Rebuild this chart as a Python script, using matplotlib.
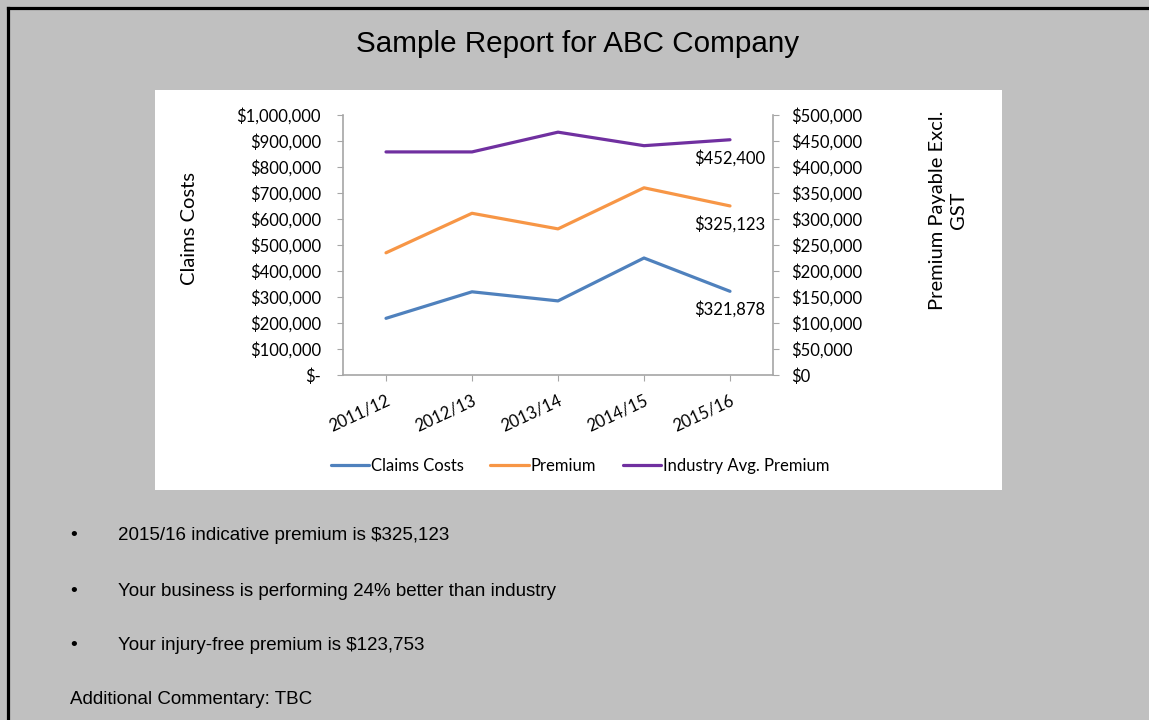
import matplotlib
matplotlib.use('Agg')
import matplotlib.pyplot as plt
from matplotlib.patches import Rectangle
from matplotlib.lines import Line2D
from matplotlib.ticker import FuncFormatter, MultipleLocator

# Data
years = ['2011/12', '2012/13', '2013/14', '2014/15', '2015/16']
claims = [218000, 320000, 285000, 450000, 321878]
premium = [235000, 311000, 281000, 360000, 325123]
industry = [429000, 429000, 467000, 441000, 452400]

bullets = [
    '2015/16 indicative premium is $325,123',
    'Your business is performing 24% better than industry',
    'Your injury-free premium is $123,753',
]
commentary = 'Additional Commentary: TBC'

W, H = 1149, 720
fig = plt.figure(figsize=(W / 100, H / 100), dpi=100, facecolor='#C0C0C0')

chart_font = 'Lato'
text_font = 'Liberation Sans'
axis_grey = '#A6A6A6'
fs = 12

# outer black frame (top and left edges visible)
fig.add_artist(Line2D([7.5 / W, 1.0], [1 - 8 / H, 1 - 8 / H], color='black', lw=2.3, transform=fig.transFigure))
fig.add_artist(Line2D([7.5 / W, 7.5 / W], [0, 1 - 8 / H], color='black', lw=2.3, transform=fig.transFigure))

# white chart panel
fig.add_artist(Rectangle((155 / W, 1 - 490 / H), 847 / W, 400 / H, facecolor='white',
                         edgecolor='none', transform=fig.transFigure, zorder=-5))

fig.text(578 / W, 1 - 44 / H, 'Sample Report for ABC Company', ha='center', va='center',
         fontsize=21.3, family=text_font)

ax = fig.add_axes([343 / W, 1 - 375 / H, 430 / W, 260 / H])
ax.patch.set_alpha(0)
ax2 = ax.twinx()

x = range(len(years))
l1, = ax.plot(x, claims, color='#4F81BD', lw=2.3, solid_capstyle='round', label='Claims Costs')
l2, = ax2.plot(x, premium, color='#F79646', lw=2.3, solid_capstyle='round', label='Premium')
l3, = ax2.plot(x, industry, color='#7030A0', lw=2.3, solid_capstyle='round', label='Industry Avg. Premium')

ax.set_xlim(-0.5, len(years) - 0.5)
ax.set_ylim(0, 1000000)
ax2.set_ylim(0, 500000)
ax.yaxis.set_major_locator(MultipleLocator(100000))
ax2.yaxis.set_major_locator(MultipleLocator(50000))
ax.yaxis.set_major_formatter(FuncFormatter(lambda v, p: '$-' if v == 0 else f'${v:,.0f}'))
ax2.yaxis.set_major_formatter(FuncFormatter(lambda v, p: f'${v:,.0f}'))

for a in (ax, ax2):
    for s in a.spines.values():
        s.set_visible(False)
ax.spines['left'].set_visible(True)
ax.spines['bottom'].set_visible(True)
ax2.spines['right'].set_visible(True)
for s in (ax.spines['left'], ax.spines['bottom'], ax2.spines['right']):
    s.set_color(axis_grey)
    s.set_linewidth(1.2)

ax.tick_params(axis='y', length=4, color=axis_grey, pad=12, labelsize=fs)
ax2.tick_params(axis='y', length=4, color=axis_grey, pad=9, labelsize=fs)
ax.tick_params(axis='x', length=4, color=axis_grey, labelsize=fs, pad=8.5)
for lab in ax.get_yticklabels() + ax2.get_yticklabels():
    lab.set_family(chart_font)

ax.set_xticks(list(x))
ax.set_xticklabels(years, rotation=25, ha='right', va='top', rotation_mode='anchor', family=chart_font)

ax.set_ylabel('Claims Costs', family=chart_font, fontsize=14.5, va='center')
ax.yaxis.set_label_coords((190 - 343) / 430, (375 - 228) / 260)
ax2.set_ylabel('Premium Payable Excl.\nGST', family=chart_font, fontsize=14.5, rotation=90,
               va='center', ha='center', linespacing=1.25)
ax2.yaxis.set_label_coords((948 - 343) / 430, (375 - 210) / 260)

# end-point data labels
last = len(years) - 1
for a, vals in ((ax2, industry), (ax2, premium), (ax, claims)):
    a.annotate(f'${vals[-1]:,.0f}', (last, vals[-1]), xytext=(0, -7), textcoords='offset points',
               ha='center', va='top', family=chart_font, fontsize=fs)

fig.legend(handles=[l1, l2, l3], loc='center', bbox_to_anchor=(580 / W, 1 - 466 / H), ncol=3,
           frameon=False, prop={'family': chart_font, 'size': fs}, handlelength=2.3,
           handletextpad=0.1, columnspacing=1.6)

# bullet text under the chart
for i, t in enumerate(bullets):
    yy = 1 - (534 + 55 * i) / H
    fig.text(74 / W, yy, '\u2022', ha='center', va='center_baseline', fontsize=14, family=text_font)
    fig.text(118 / W, yy, t, ha='left', va='center_baseline', fontsize=13.5, family=text_font)
fig.text(70 / W, 1 - 697 / H, commentary, ha='left', va='center_baseline', fontsize=13.5, family=text_font)

fig.savefig('out.png', dpi=100, facecolor=fig.get_facecolor())
